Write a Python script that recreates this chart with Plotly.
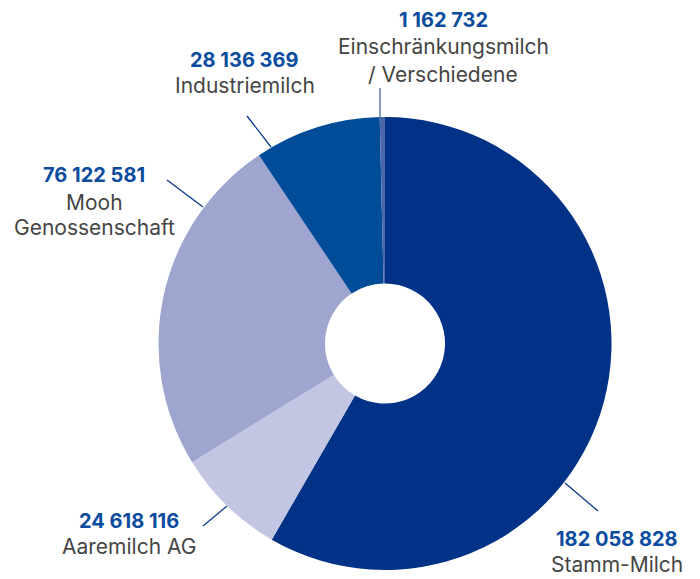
import plotly.graph_objects as go

labels = ["Stamm-Milch", "Aaremilch AG", "Mooh<br>Genossenschaft", "Industriemilch",
          "Einschränkungsmilch<br>/ Verschiedene"]
values = [182058828, 24618116, 76122581, 28136369, 1162732]
colors = ["#003287", "#c3c6e3", "#9ea6d0", "#004c98", "#4a67a9"]

W, H = 700, 579

def px(x):
    return x / W

def py(y):
    return 1 - y / H

fig = go.Figure(go.Pie(
    labels=labels, values=values, sort=False, direction="clockwise", rotation=0,
    hole=0.265, textinfo="none", hoverinfo="label+value",
    marker=dict(colors=colors, line=dict(width=0)),
    domain=dict(x=[px(158), px(612)], y=[py(570), py(117)]),
    showlegend=False,
))

def fmt(v):
    return f"{v:,}".replace(",", " ")

# label layout: center x, number y, label line ys, leader line (x0,y0,x1,y1), line color
label_pos = [
    (617, 539, [564.5], [565, 483, 598, 511], "#0a3a8c"),
    (129, 521, [546.5], [227, 506, 203, 526], "#0a3a8c"),
    (94, 175, [202.5, 227.5], [203, 207, 167, 180], "#0a3a8c"),
    (244.5, 60, [85.5], [271, 147, 247, 116], "#0a3a8c"),
    (443, 20, [46.5, 74.5], [380, 117, 380, 88], "#4a67a9"),
]

FONT = "Inter, Roboto, sans-serif"
annotations = []
shapes = []
for lab, val, (cx, ny, lys, ln, lc) in zip(labels, values, label_pos):
    annotations.append(dict(
        x=px(cx), y=py(ny), xref="paper", yref="paper", showarrow=False,
        text=f"<b>{fmt(val)}</b>", xanchor="center", yanchor="middle",
        font=dict(family=FONT, size=20, color="#0b4c9e")))
    for part, ly in zip(lab.split("<br>"), lys):
        annotations.append(dict(
            x=px(cx), y=py(ly), xref="paper", yref="paper", showarrow=False,
            text=part, xanchor="center", yanchor="middle",
            font=dict(family=FONT, size=21, color="#454545")))
    shapes.append(dict(type="line", xref="paper", yref="paper",
                       x0=px(ln[0]), y0=py(ln[1]), x1=px(ln[2]), y1=py(ln[3]),
                       line=dict(color=lc, width=1.3)))

fig.update_layout(
    width=W, height=H, margin=dict(l=0, r=0, t=0, b=0),
    paper_bgcolor="white", plot_bgcolor="white",
    annotations=annotations, shapes=shapes,
)

fig.write_html("out.html")
